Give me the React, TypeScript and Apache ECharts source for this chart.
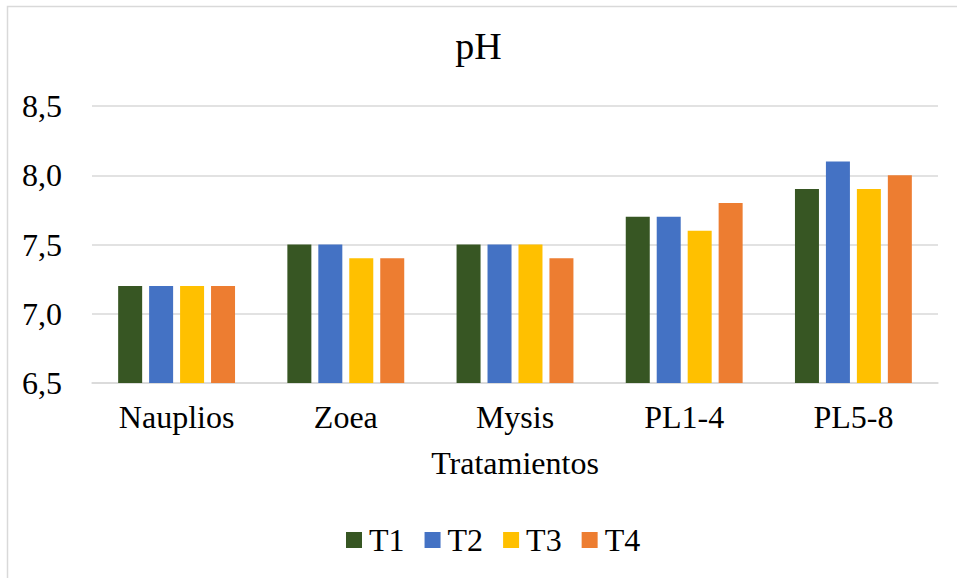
import React, { useEffect, useRef } from "react";
import * as echarts from "echarts";

const categories = ["Nauplios", "Zoea", "Mysis", "PL1-4", "PL5-8"];
const seriesNames = ["T1", "T2", "T3", "T4"];
const t1 = [7.2, 7.5, 7.5, 7.7, 7.9];
const t2 = [7.2, 7.5, 7.5, 7.7, 8.1];
const t3 = [7.2, 7.4, 7.5, 7.6, 7.9];
const t4 = [7.2, 7.4, 7.4, 7.8, 8.0];
const colors = ["#375623", "#4472C4", "#FFC000", "#ED7D31"];

const FONT = "Liberation Serif";

export default function App() {
  const ref = useRef<HTMLDivElement>(null);
  useEffect(() => {
    if (!ref.current) return;
    const chart = echarts.init(ref.current, undefined, { renderer: "svg" });
    const values = [t1, t2, t3, t4];
    chart.setOption({
      animation: false,
      backgroundColor: "#ffffff",
      textStyle: { fontFamily: FONT },
      title: {
        text: "pH",
        left: "center",
        top: 22,
        textStyle: { fontFamily: FONT, fontSize: 38, fontWeight: "normal", color: "#000" },
      },
      graphic: [
        {
          type: "rect",
          shape: { x: 7.5, y: 6.5, width: 980, height: 600 },
          style: { fill: "none", stroke: "#d9d9d9", lineWidth: 1.5 },
          silent: true,
        },
      ],
      legend: {
        data: seriesNames,
        top: 519,
        left: 341,
        itemWidth: 16,
        itemHeight: 16,
        itemGap: 20,
        icon: "rect",
        textStyle: { fontFamily: FONT, fontSize: 32, color: "#000", padding: [0, 0, 0, 2] },
      },
      grid: { left: 92, right: 19, top: 106, bottom: 195, containLabel: false },
      xAxis: {
        type: "category",
        data: categories,
        name: "Tratamientos",
        nameLocation: "middle",
        nameGap: 64,
        nameTextStyle: { fontFamily: FONT, fontSize: 32, color: "#000" },
        axisLine: { lineStyle: { color: "#d9d9d9", width: 1.5 } },
        axisTick: { show: false },
        axisLabel: { fontFamily: FONT, fontSize: 32, color: "#000", margin: 18 },
      },
      yAxis: {
        type: "value",
        min: 6.5,
        max: 8.5,
        interval: 0.5,
        axisLine: { show: false },
        axisTick: { show: false },
        splitLine: { lineStyle: { color: "#d9d9d9", width: 1.5 } },
        axisLabel: {
          fontFamily: FONT,
          fontSize: 32,
          color: "#000",
          margin: 30,
          formatter: (v: number) => v.toFixed(1).replace(".", ","),
        },
      },
      series: seriesNames.map((n, i) => ({
        name: n,
        type: "bar",
        data: values[i],
        barWidth: 24,
        barGap: "29%",
        itemStyle: { color: colors[i] },
      })),
    });
    return () => chart.dispose();
  }, []);
  return (
    <div
      ref={ref}
      style={{ position: "fixed", left: 0, top: 0, width: 957, height: 578 }}
    />
  );
}
